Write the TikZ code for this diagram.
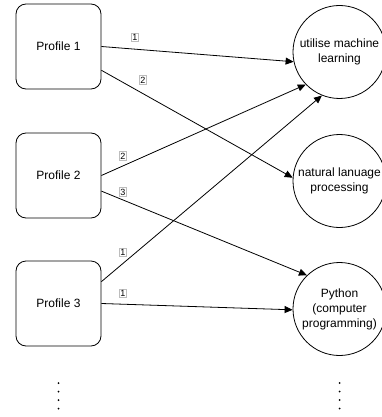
\documentclass[tikz,border=0pt]{standalone}
\usepackage{fontspec}
\setmainfont{Liberation Sans}
\usetikzlibrary{arrows.meta}
\definecolor{lblgray}{HTML}{BDBDBD}

\begin{document}
\begin{tikzpicture}[x=1pt,y=-1pt,
	profile/.style={draw,thick,rounded corners=10pt,minimum width=85pt,minimum height=85pt,font=\fontsize{12}{15}\selectfont},
	topic/.style={draw,thick,circle,minimum size=93pt,inner sep=0pt,align=center,font=\fontsize{12}{15}\selectfont},
	lbl/.style={draw=lblgray,fill=white,inner xsep=0.8pt,inner ysep=1.2pt,font=\fontsize{9}{10}\selectfont},
	link/.style={-{Triangle[length=8pt,width=7pt]},thick}]
	\useasboundingbox (0,0) rectangle (381,417);

	\node[profile] (p1) at (58.5,46.5) {Profile 1};
	\node[profile] (p2) at (58.5,175.5) {Profile 2};
	\node[profile] (p3) at (58.5,303.5) {Profile 3};

	\node[topic] (ml) at (339.5,52) {utilise machine\\learning};
	\node[topic] (nlp) at (339.5,181) {natural lanuage\\processing};
	\node[topic] (py) at (339.5,309) {Python\\(computer\\programming)};

	\draw[link] (p1.east) -- (ml.192);
	\draw[link] (p1.-29) -- (nlp.176);
	\draw[link] (p2.east) -- (ml.224);
	\draw[link] (p2.-20) -- (py.134);
	\draw[link] (p3.27) -- (ml.248);
	\draw[link] (p3.east) -- (py.181);

	\node[lbl] (w11) at (135,37) {1};
	\node[lbl] (w12) at (143,80) {2};
	\node[lbl] (w21) at (123,156) {2};
	\node[lbl] (w23) at (123,192) {3};
	\node[lbl] (w31) at (123,252) {1};
	\node[lbl] (w33) at (123,293) {1};

	% more profiles / topics below
	\foreach \y in {383,391.5,400,408.5} {
		\fill (58.5,\y) circle (1pt);
		\fill (339.5,\y) circle (1pt);
	}
\end{tikzpicture}
\end{document}
